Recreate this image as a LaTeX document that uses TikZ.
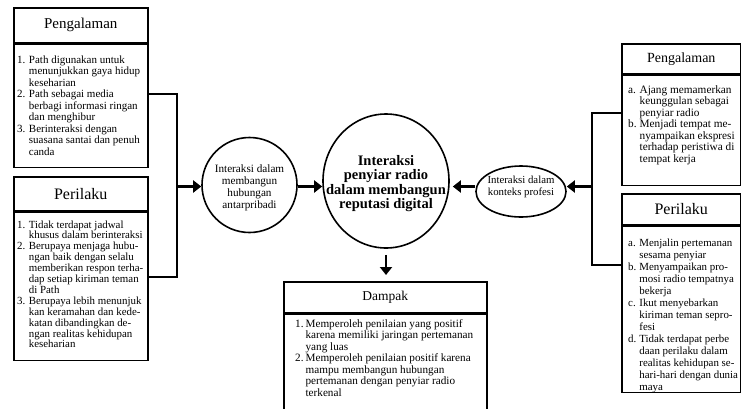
\documentclass[tikz,border=0pt]{standalone}
\usepackage{fontspec}
\setmainfont{Liberation Serif}
\usetikzlibrary{arrows.meta,shapes.geometric,calc}
\begin{document}
\begin{tikzpicture}[x=1pt,y=-1pt,
  hdr/.style={draw,line width=1.5pt,inner sep=0pt,anchor=north west},
  bodybox/.style={draw,line width=1.5pt,inner sep=0pt,anchor=north west},
  txt/.style={inner sep=0pt,anchor=base west,align=left},
  circ/.style={draw,line width=1.6pt,circle,inner sep=0pt},
  ell/.style={draw,line width=1.6pt,ellipse,inner sep=0pt},
  ctext/.style={inner sep=0pt,align=center},
  conn/.style={line width=2.5pt,line join=miter},
  arr/.style={line width=2.5pt,-{Triangle[length=8pt,width=12pt]}}]
\useasboundingbox (0,0) rectangle (741,408);

% ---------- left Pengalaman ----------
\node[hdr,minimum width=134pt,minimum height=35pt,font=\fontsize{15}{18}\selectfont] (lph) at (13,7) {Pengalaman};
\node[bodybox,minimum width=134pt,minimum height=123pt] (lpb) at (lph.south west) {};
\node[txt] (lpt) at (17,63) {\fontsize{11}{11.5}\selectfont
\begin{tabular}[t]{@{}l@{\hspace{3.5pt}}l@{}}
1. & Path digunakan untuk\\
   & menunjukkan gaya hidup\\
   & keseharian\\
2. & Path sebagai media\\
   & berbagi informasi ringan\\
   & dan menghibur\\
3. & Berinteraksi dengan\\
   & suasana santai dan penuh\\
   & canda
\end{tabular}};

% ---------- left Perilaku ----------
\node[hdr,minimum width=134pt,minimum height=34pt,font=\fontsize{16}{19}\selectfont] (lrh) at (13,176) {Perilaku};
\node[bodybox,minimum width=134pt,minimum height=148pt] (lrb) at (lrh.south west) {};
\node[txt] (lrt) at (17,228) {\fontsize{10.9}{10.9}\selectfont
\begin{tabular}[t]{@{}l@{\hspace{3.5pt}}l@{}}
1. & Tidak terdapat jadwal\\
   & khusus dalam berinteraksi\\
2. & Berupaya menjaga hubu-\\
   & ngan baik dengan selalu\\
   & memberikan respon terha-\\
   & dap setiap kiriman teman\\
   & di Path\\
3. & Berupaya lebih menunjuk\\
   & kan keramahan dan kede-\\
   & katan dibandingkan de-\\
   & ngan realitas kehidupan\\
   & keseharian
\end{tabular}};

% ---------- right Pengalaman ----------
\node[hdr,minimum width=119pt,minimum height=30pt,font=\fontsize{14}{17}\selectfont] (rph) at (621,43) {Pengalaman};
\node[bodybox,minimum width=119pt,minimum height=110pt] (rpb) at (rph.south west) {};
\node[txt] (rpt) at (628,93) {\fontsize{11.3}{11.5}\selectfont
\begin{tabular}[t]{@{}l@{\hspace{3pt}}l@{}}
a. & Ajang memamerkan\\
   & keunggulan sebagai\\
   & penyiar radio\\
b. & Menjadi tempat me-\\
   & nyampaikan ekspresi\\
   & terhadap peristiwa di\\
   & tempat kerja
\end{tabular}};

% ---------- right Perilaku ----------
\node[hdr,minimum width=119pt,minimum height=31pt,font=\fontsize{16}{19}\selectfont] (rrh) at (621,193) {Perilaku};
\node[bodybox,minimum width=119pt,minimum height=166pt] (rrb) at (rrh.south west) {};
\node[txt] (rrt) at (628,246) {\fontsize{10.9}{12}\selectfont
\begin{tabular}[t]{@{}l@{\hspace{3pt}}l@{}}
a. & Menjalin pertemanan\\
   & sesama penyiar\\
b. & Menyampaikan pro-\\
   & mosi radio tempatnya\\
   & bekerja\\
c. & Ikut menyebarkan\\
   & kiriman teman sepro-\\
   & fesi\\
d. & Tidak terdapat perbe\\
   & daan perilaku dalam\\
   & realitas kehidupan se-\\
   & hari-hari dengan dunia\\
   & maya
\end{tabular}};

% ---------- Dampak ----------
\node[hdr,minimum width=203pt,minimum height=31pt,font=\fontsize{13.5}{16}\selectfont] (dh) at (283,281) {Dampak};
\node[bodybox,minimum width=203pt,minimum height=112pt] (db) at (dh.south west) {};
\node[txt] (dt) at (295,327) {\fontsize{11.2}{11.5}\selectfont
\begin{tabular}[t]{@{}l@{\hspace{2pt}}l@{}}
1. & Memperoleh penilaian yang positif\\
   & karena memiliki jaringan pertemanan\\
   & yang luas\\
2. & Memperoleh penilaian positif karena\\
   & mampu membangun hubungan\\
   & pertemanan dengan penyiar radio\\
   & terkenal
\end{tabular}};

% ---------- circles ----------
\node[circ,minimum size=95pt] (sc) at (249.5,185) {};
\node[ctext,font=\fontsize{11.2}{12}\selectfont] (sct) at (249.5,187.5) {Interaksi dalam\\membangun\\hubungan\\antarpribadi};
\node[ell,minimum width=126pt,minimum height=134pt] (bc) at (386,181) {};
\node[ctext,font=\bfseries\fontsize{14.5}{14.4}\selectfont] (bct) at (386,183.5) {Interaksi\\penyiar radio\\dalam membangun\\reputasi digital};
\node[ell,minimum width=90pt,minimum height=51pt] (re) at (521,191.5) {};
\node[ctext,font=\fontsize{10.8}{12}\selectfont] (ret) at (521,186.5) {Interaksi dalam\\konteks profesi};

% ---------- connectors ----------
\coordinate (lt) at (177,94);
\coordinate (lb) at (177,277);
\coordinate (rt) at (592,113);
\coordinate (rb) at (592,265);
\coordinate (ay) at (0,186.5);
\draw[conn] (lpb.east |- lt) -- (lt) -- (lb) -- (lrb.east |- lb);
\draw[conn] (rpb.west |- rt) -- (rt) -- (rb) -- (rrb.west |- rb);
\draw[arr] (lt |- ay) -- (sc.west |- ay);
\draw[arr] (sc.east |- ay) -- (bc.west |- ay);
\draw[arr] (rt |- ay) -- (re.east |- ay);
\draw[arr,shorten >=3pt] (re.west |- ay) -- (bc.east |- ay);
\draw[arr,shorten <=6pt,shorten >=6pt] (bc.south) -- (bc.south |- dh.north);
\end{tikzpicture}
\end{document}
